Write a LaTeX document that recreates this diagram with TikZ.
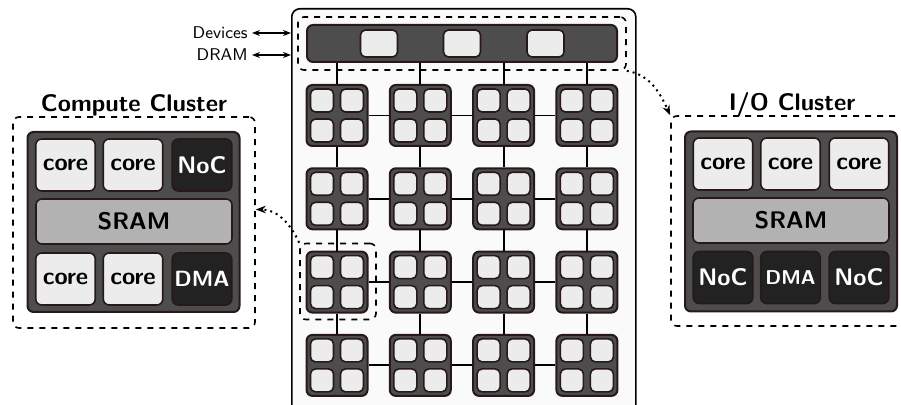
\documentclass[tikz,border=0pt]{standalone}
\usepackage{tikz}
\usetikzlibrary{arrows.meta}

\begin{document}
\begin{tikzpicture}[x=0.5pt, y=-0.5pt,
    tile/.style={draw=edgecol, fill=darkcol, line width=1pt, rounded corners=3pt, minimum size=30.5pt, inner sep=0pt},
    sub/.style={draw=edgecol, fill=lightcol, line width=0.8pt, rounded corners=2.5pt, minimum size=11.5pt, inner sep=0pt},
    link/.style={line width=0.9pt},
    zone/.style={draw, dashed, line width=0.8pt, rounded corners=3pt, inner sep=0pt},
    hint/.style={dotted, line width=1pt, -{Stealth[length=5pt]}},
    block/.style={draw=edgecol, line width=0.8pt, rounded corners=3pt, inner sep=0pt, font=\sffamily\bfseries\fontsize{12}{14}\selectfont},
    core/.style={block, fill=lightcol, minimum width=29.75pt, minimum height=26pt},
    unit/.style={block, fill=blackcol, text=white, minimum width=29.75pt, minimum height=26pt},
    sram/.style={block, fill=sramcol, minimum width=98pt, minimum height=22.5pt},
    cluster/.style={draw=edgecol, fill=darkcol, line width=1pt, rounded corners=3pt, inner sep=0pt, minimum width=106pt, minimum height=90pt},
    title/.style={inner sep=0pt, font=\sffamily\bfseries\fontsize{12}{14}\selectfont},
    lbl/.style={inner sep=2pt, font=\sffamily\fontsize{8.5}{10}\selectfont}]
    \useasboundingbox (0,0) rectangle (901,405);
    \clip (0,0) rectangle (901,405);
    \definecolor{darkcol}{RGB}{77,77,77}
    \definecolor{lightcol}{RGB}{236,236,236}
    \definecolor{sramcol}{RGB}{178,178,178}
    \definecolor{blackcol}{RGB}{34,34,34}
    \definecolor{edgecol}{RGB}{40,25,25}
    \definecolor{chipbg}{RGB}{250,250,250}
    \def\pitch{83.3}
    \def\subofs{15}

    % chip
    \node[draw, fill=chipbg, line width=0.8pt, rounded corners=4pt, anchor=north west, minimum width=172pt, minimum height=216pt] (chip) at (291,8) {};

    % I/O bar with ports
    \node[tile, minimum width=155pt, minimum height=18.5pt] (iobar) at (462,43.5) {};
    \node[sub, minimum width=18.5pt, minimum height=13.5pt] (port1) at (379,43.5) {};
    \node[sub, minimum width=18.5pt, minimum height=13.5pt] (port2) at (462,43.5) {};
    \node[sub, minimum width=18.5pt, minimum height=13.5pt] (port3) at (545.5,43.5) {};
    \node[zone, minimum width=164pt, minimum height=26.5pt] (barzone) at (462,43.5) {};

    % tiles
    \foreach \i in {1,...,4} {
        \foreach \j in {1,...,4} {
            \node[tile] (t-\i-\j) at ({337+\pitch*(\i-1)}, {115.5+\pitch*(\j-1)}) {};
            \foreach \dx in {-\subofs,\subofs} {
                \foreach \dy in {-\subofs,\subofs} {
                    \node[sub] at ({337+\pitch*(\i-1)+\dx}, {115.5+\pitch*(\j-1)+\dy}) {};
                }
            }
        }
    }

    % mesh links
    \foreach \i in {1,...,4} {
        \draw[link] (t-\i-1.north) -- (t-\i-1.north |- iobar.south);
        \foreach \j/\k in {1/2,2/3,3/4} {
            \draw[link] (t-\i-\j.south) -- (t-\i-\k.north);
            \draw[link] (t-\j-\i.east) -- (t-\k-\i.west);
        }
    }

    % selected tile
    \node[zone, minimum size=38pt] (sel) at (338,281.5) {};

    % external links
    \node[lbl, anchor=east] (dev) at (252,33) {Devices};
    \node[lbl, anchor=east] (dram) at (252,55) {DRAM};
    \draw[{Stealth[length=4pt]}-{Stealth[length=4pt]}, line width=0.6pt] (dev.east) -- (dev.east -| chip.west);
    \draw[{Stealth[length=4pt]}-{Stealth[length=4pt]}, line width=0.6pt] (dram.east) -- (dram.east -| chip.west);

    % compute cluster
    \node[zone, minimum width=121pt, minimum height=105.5pt] (cc) at (134,222.5) {};
    \node[title, anchor=base] at ([yshift=2.5pt]cc.north) {Compute Cluster};
    \node[cluster] (cc-box) at (133.5,222) {};
    \node[core] (cc-c1) at (65.5,165) {core};
    \node[core] (cc-c2) at (133,165) {core};
    \node[unit] (cc-noc) at (202,165) {NoC};
    \node[sram] (cc-sram) at (134,221.5) {SRAM};
    \node[core] (cc-c3) at (65.5,279) {core};
    \node[core] (cc-c4) at (133,279) {core};
    \node[unit, font=\sffamily\bfseries\fontsize{11}{13}\selectfont] (cc-dma) at (202,279) {DMA};

    % I/O cluster
    \node[zone, minimum width=121pt, minimum height=105pt] (ioc) at (792,221) {};
    \node[title, anchor=base] at ([yshift=2.5pt]ioc.north) {I/O Cluster};
    \node[cluster] (ioc-box) at (791,221.5) {};
    \node[core] (ioc-c1) at (723,164) {core};
    \node[core] (ioc-c2) at (790.5,164) {core};
    \node[core] (ioc-c3) at (859,164) {core};
    \node[sram] (ioc-sram) at (791,220.5) {SRAM};
    \node[unit] (ioc-noc1) at (723,277.5) {NoC};
    \node[unit, font=\sffamily\bfseries\fontsize{10}{12}\selectfont] (ioc-dma) at (790.5,277.5) {DMA};
    \node[unit] (ioc-noc2) at (859,277.5) {NoC};

    % zoom hints
    \draw[hint] (sel.north west) to[out=115, in=0] ([yshift=6.5pt]cc.east);
    \draw[hint] (barzone.south east) to[out=-10, in=115] (ioc.north west);
\end{tikzpicture}
\end{document}
